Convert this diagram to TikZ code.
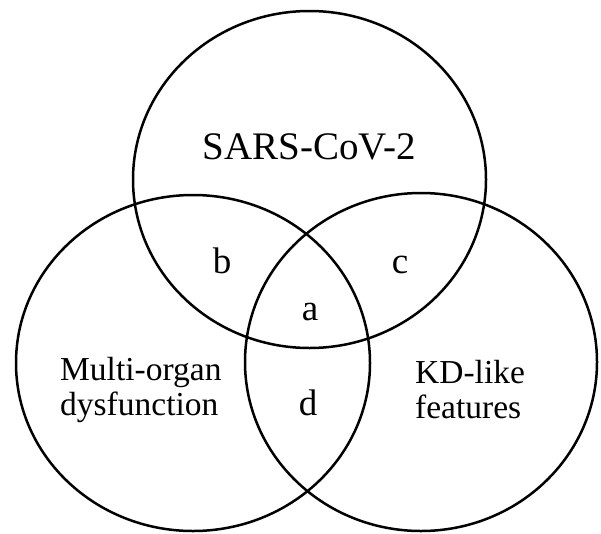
\documentclass[tikz,border=0pt]{standalone}
\usepackage{fontspec}
\setmainfont{Liberation Serif}
\usetikzlibrary{shapes.geometric}
\tikzset{
  setbox/.style={draw=black, line width=2.5pt, ellipse, inner sep=0pt, outer sep=0pt},
  biglabel/.style={font=\fontsize{39}{42}\selectfont, inner sep=0pt, anchor=base},
  letterlabel/.style={font=\fontsize{37}{39}\selectfont, inner sep=0pt, anchor=base},
  sidelabel/.style={font=\fontsize{33.5}{35}\selectfont, inner sep=0pt, align=left, anchor=west}
}
\begin{document}
\begin{tikzpicture}[x=1pt, y=-1pt]
  \useasboundingbox[fill=white] (0,0) rectangle (601,533);
  \node[setbox, minimum width=353pt, minimum height=337pt] (sars) at (309.5,179.5) {};
  \node[setbox, minimum width=354pt, minimum height=336pt] (mod) at (193,363) {};
  \node[setbox, minimum width=352pt, minimum height=338pt] (kd) at (421,362) {};
  \node[biglabel] (tsars) at (309.5,159) {SARS-CoV-2};
  \node[letterlabel] (lb) at (222,273) {b};
  \node[letterlabel] (lc) at (400,273) {c};
  \node[letterlabel] (la) at (310,320) {a};
  \node[letterlabel] (ld) at (308,415) {d};
  \node[sidelabel] (tmod) at (60,389.5) {Multi-organ\\dysfunction};
  \node[sidelabel] (tkd) at (415,389.5) {KD-like\\features};
\end{tikzpicture}
\end{document}
